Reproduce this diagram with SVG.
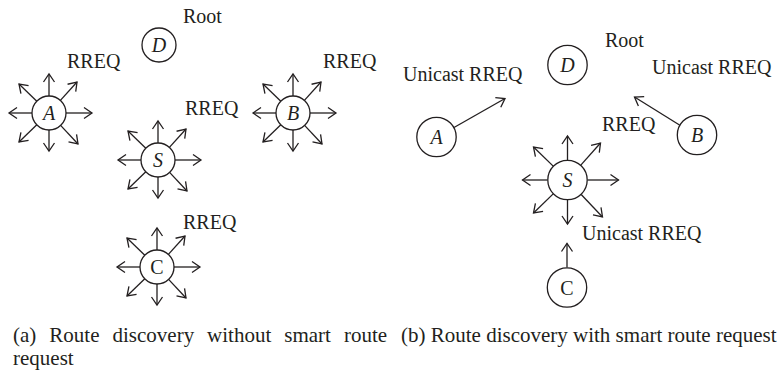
<svg xmlns="http://www.w3.org/2000/svg" xmlns:xlink="http://www.w3.org/1999/xlink" width="778" height="373" viewBox="0 0 778 373">
<style>
  text { font-family: "Liberation Serif", "Times New Roman", serif; fill: #231f20; }
  .lbl { font-size: 20px; }
  .cap { font-size: 21px; }
  .nl { font-size: 20px; font-style: italic; text-anchor: middle; }
  .up { font-style: normal; }
  .node { fill: #ffffff; stroke: #231f20; stroke-width: 1.3; }
  .arr { stroke: #231f20; stroke-width: 1.3; fill: none; marker-end: url(#ah); }
</style>
<defs>
  <marker id="ah" viewBox="-10 -7 12 14" refX="0" refY="0" markerWidth="12" markerHeight="14" markerUnits="userSpaceOnUse" orient="auto">
    <path d="M-8,-5.5 L0,0 L-8,5.5" fill="none" stroke="#231f20" stroke-width="1.3"/>
  </marker>
  <g id="burstL">
    <line class="arr" x1="17" y1="0" x2="43" y2="0"/>
    <line class="arr" x1="-17" y1="0" x2="-40" y2="0"/>
    <line class="arr" x1="0" y1="-17" x2="0" y2="-39"/>
    <line class="arr" x1="0" y1="17" x2="0" y2="38"/>
    <line class="arr" x1="11.4" y1="-12.6" x2="28" y2="-31"/>
    <line class="arr" x1="-12.2" y1="-11.8" x2="-30" y2="-29"/>
    <line class="arr" x1="-12.2" y1="11.8" x2="-30" y2="29"/>
    <line class="arr" x1="11.6" y1="12.4" x2="29" y2="31"/>
  </g>
</defs>

<g id="connectors">
  <use xlink:href="#burstL" href="#burstL" x="49" y="113"/>
  <use xlink:href="#burstL" href="#burstL" x="293" y="113"/>
  <use xlink:href="#burstL" href="#burstL" x="158" y="160"/>
  <use xlink:href="#burstL" href="#burstL" x="157" y="267"/>
  <g transform="translate(567.5,180)">
    <line class="arr" x1="20" y1="0" x2="51" y2="0"/>
    <line class="arr" x1="-20" y1="0" x2="-45" y2="0"/>
    <line class="arr" x1="0" y1="-20" x2="0" y2="-44"/>
    <line class="arr" x1="0" y1="20" x2="0" y2="44"/>
    <line class="arr" x1="13.3" y1="-14.9" x2="33" y2="-37"/>
    <line class="arr" x1="-14.3" y1="-13.9" x2="-34" y2="-33"/>
    <line class="arr" x1="-14.3" y1="13.9" x2="-34" y2="33"/>
    <line class="arr" x1="13.7" y1="14.5" x2="35" y2="37"/>
  </g>
  <line class="arr" x1="454" y1="127.5" x2="505" y2="98.5"/>
  <line class="arr" x1="679.5" y1="125" x2="634.5" y2="97"/>
  <line class="arr" x1="567" y1="267.5" x2="567" y2="243.5"/>
</g>

<g id="nodeD_a"><circle class="node" cx="159" cy="45" r="17"/><text class="nl" x="159" y="52">D</text></g>
<g id="nodeA_a"><circle class="node" cx="49" cy="113" r="17"/><text class="nl" x="49" y="120">A</text></g>
<g id="nodeB_a"><circle class="node" cx="293" cy="113" r="17"/><text class="nl" x="293" y="120">B</text></g>
<g id="nodeS_a"><circle class="node" cx="158" cy="160" r="17"/><text class="nl" x="158" y="167">S</text></g>
<g id="nodeC_a"><circle class="node" cx="157" cy="267" r="17"/><text class="nl up" x="157" y="274">C</text></g>

<g id="nodeD_b"><circle class="node" cx="567.5" cy="65" r="19.7"/><text class="nl" x="567.5" y="72">D</text></g>
<g id="nodeA_b"><circle class="node" cx="436.5" cy="137" r="19.7"/><text class="nl" x="436.5" y="144">A</text></g>
<g id="nodeB_b"><circle class="node" cx="697" cy="135" r="19.7"/><text class="nl" x="697" y="142">B</text></g>
<g id="nodeS_b"><circle class="node" cx="567.5" cy="180" r="19.7"/><text class="nl" x="567.5" y="187">S</text></g>
<g id="nodeC_b"><circle class="node" cx="567" cy="287.5" r="19.7"/><text class="nl up" x="567" y="294.5">C</text></g>

<g id="labels">
  <text class="lbl" x="183" y="23">Root</text>
  <text class="lbl" x="67" y="68">RREQ</text>
  <text class="lbl" x="323" y="68">RREQ</text>
  <text class="lbl" x="185" y="115">RREQ</text>
  <text class="lbl" x="183" y="229">RREQ</text>
  <text class="lbl" x="605" y="47">Root</text>
  <text class="lbl" x="403" y="81">Unicast RREQ</text>
  <text class="lbl" x="652" y="74">Unicast RREQ</text>
  <text class="lbl" x="602" y="131">RREQ</text>
  <text class="lbl" x="582" y="240">Unicast RREQ</text>
</g>

<g id="captions">
  <text class="cap" y="342"><tspan x="13">(a)</tspan><tspan x="49.3">Route</tspan><tspan x="112.5">discovery</tspan><tspan x="207.1">without</tspan><tspan x="284.3">smart</tspan><tspan x="344">route</tspan></text>
  <text class="cap" x="13" y="365">request</text>
  <text class="cap" x="401" y="342">(b) Route discovery with smart route request</text>
</g>
</svg>
